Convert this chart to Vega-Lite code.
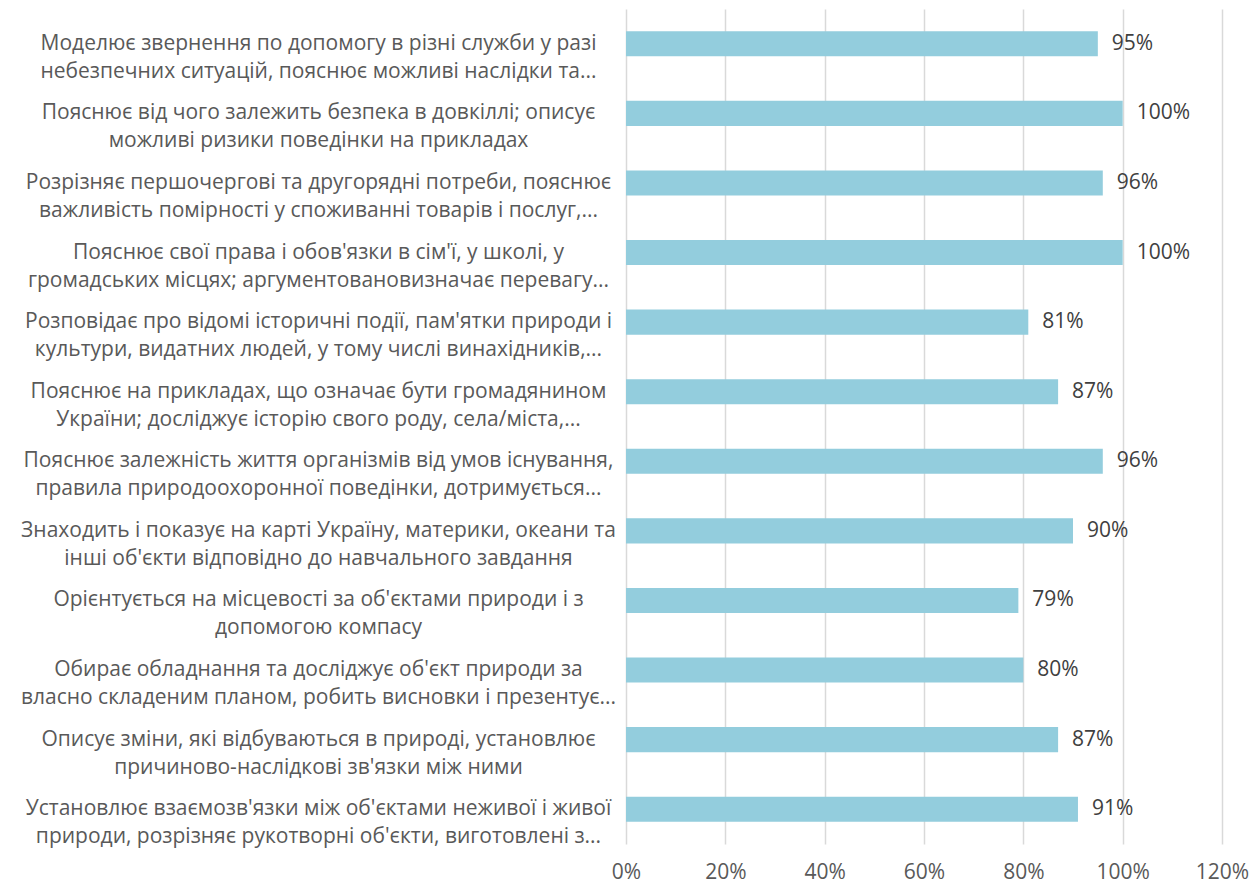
{
  "$schema": "https://vega.github.io/schema/vega-lite/v6.json",
  "width": 596,
  "height": 835,
  "autosize": {"type": "none"},
  "padding": {"left": 626, "top": 9, "right": 30, "bottom": 39},
  "background": "white",
  "config": {
    "view": {"stroke": null},
    "font": "Open Sans",
    "text": {"font": "Open Sans"}
  },
  "data": {
    "values": [
      {"label": "Моделює звернення по допомогу в різні служби у разі|небезпечних ситуацій, пояснює можливі наслідки та...", "value": 0.95},
      {"label": "Пояснює від чого залежить безпека в довкіллі; описує|можливі ризики поведінки на прикладах", "value": 1.0},
      {"label": "Розрізняє першочергові та другорядні потреби, пояснює|важливість помірності у споживанні товарів і послуг,...", "value": 0.96},
      {"label": "Пояснює свої права і обов'язки в сім'ї, у школі, у|громадських місцях; аргументовановизначає перевагу...", "value": 1.0},
      {"label": "Розповідає про відомі історичні події, пам'ятки природи і|культури, видатних людей, у тому числі винахідників,...", "value": 0.81},
      {"label": "Пояснює на прикладах, що означає бути громадянином|України; досліджує історію свого роду, села/міста,...", "value": 0.87},
      {"label": "Пояснює залежність життя організмів від умов існування,|правила природоохоронної поведінки, дотримується...", "value": 0.96},
      {"label": "Знаходить і показує на карті Україну, материки, океани та|інші об'єкти відповідно до навчального завдання", "value": 0.90},
      {"label": "Орієнтується на місцевості за об'єктами природи і з|допомогою компасу", "value": 0.79},
      {"label": "Обирає обладнання та досліджує об'єкт природи за|власно складеним планом, робить висновки і презентує...", "value": 0.80},
      {"label": "Описує зміни, які відбуваються в природі, установлює|причиново-наслідкові зв'язки між ними", "value": 0.87},
      {"label": "Установлює взаємозв'язки між об'єктами неживої і живої|природи, розрізняє рукотворні об'єкти, виготовлені  з...", "value": 0.91}
    ]
  },
  "encoding": {
    "y": {
      "field": "label",
      "type": "nominal",
      "sort": null,
      "title": null,
      "scale": {"paddingInner": 0.64, "paddingOuter": 0.32},
      "axis": {
        "domain": false,
        "ticks": false,
        "grid": false,
        "labelExpr": "split(datum.label, '|')",
        "labelAlign": "center",
        "labelBaseline": "middle",
        "labelPadding": 308,
        "labelLimit": 0,
        "labelFontSize": 21,
        "labelLineHeight": 28,
        "labelColor": "#595959",
        "labelFont": "Open Sans"
      }
    },
    "x": {
      "field": "value",
      "type": "quantitative",
      "title": null,
      "scale": {"domain": [0, 1.2], "nice": false},
      "axis": {
        "values": [0, 0.2, 0.4, 0.6, 0.8, 1.0, 1.2],
        "format": ".0%",
        "domain": false,
        "ticks": false,
        "grid": true,
        "gridColor": "#d9d9d9",
        "gridWidth": 1.5,
        "labelPadding": 17,
        "labelFontSize": 21,
        "labelColor": "#595959",
        "labelFont": "Open Sans",
        "labelFlush": false
      }
    }
  },
  "layer": [
    {"mark": {"type": "bar", "color": "#93cddd"}},
    {
      "mark": {"type": "text", "align": "left", "baseline": "middle", "dx": 14, "fontSize": 21, "color": "#404040", "font": "Open Sans"},
      "encoding": {"text": {"field": "value", "type": "quantitative", "format": ".0%"}}
    }
  ]
}
